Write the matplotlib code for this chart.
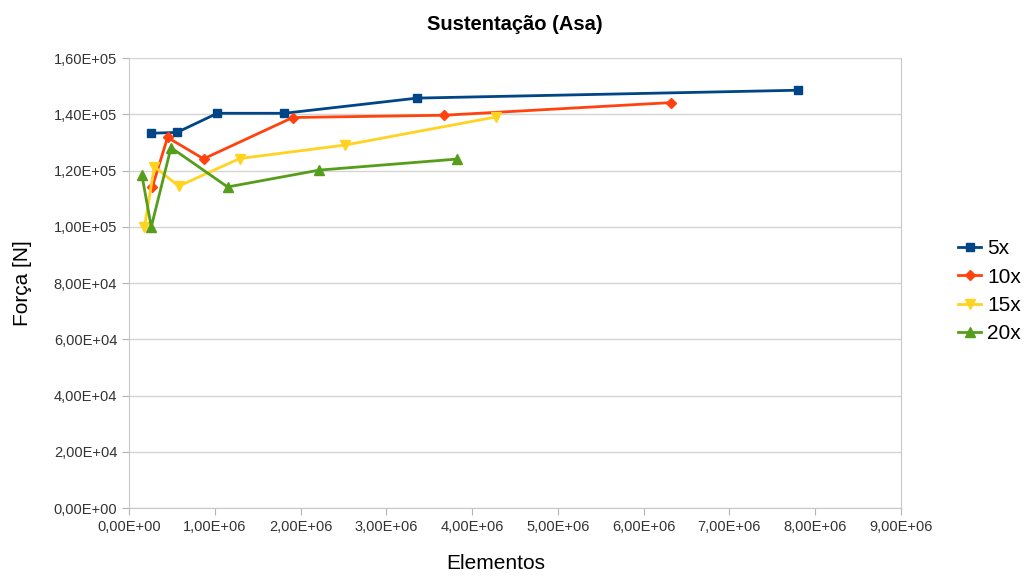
import numpy as np
import matplotlib.pyplot as plt
from matplotlib.ticker import FuncFormatter

plt.rcParams['font.family'] = ['Liberation Sans', 'DejaVu Sans']

# Dados
x_5 = [0.256e6, 0.56e6, 1.03e6, 1.81e6, 3.36e6, 7.80e6]
y_5 = [1.333e5, 1.336e5, 1.404e5, 1.404e5, 1.458e5, 1.486e5]

x_10 = [0.272e6, 0.45e6, 0.87e6, 1.91e6, 3.67e6, 6.32e6]
y_10 = [1.142e5, 1.318e5, 1.242e5, 1.389e5, 1.397e5, 1.442e5]

x_15 = [0.18e6, 0.295e6, 0.58e6, 1.29e6, 2.52e6, 4.28e6]
y_15 = [0.998e5, 1.214e5, 1.145e5, 1.243e5, 1.291e5, 1.391e5]

x_20 = [0.15e6, 0.26e6, 0.49e6, 1.15e6, 2.22e6, 3.82e6]
y_20 = [1.185e5, 1.0e5, 1.282e5, 1.142e5, 1.202e5, 1.241e5]

series = [
    ('5x', x_5, y_5, '#004586', 's', 6),
    ('10x', x_10, y_10, '#ff420e', 'D', 5),
    ('15x', x_15, y_15, '#ffd320', 'v', 7),
    ('20x', x_20, y_20, '#579d1c', '^', 7),
]


def sci_comma(v, pos):
    s = '%.2E' % v
    return s.replace('.', ',')


fig = plt.figure(figsize=(10.26, 5.76), dpi=100)
ax = fig.add_axes([0.1257, 0.118, 0.7524, 0.781])

for name, xs, ys, col, mk, ms in series:
    ax.plot(xs, ys, color=col, marker=mk, markersize=ms, linewidth=2, label=name)

ax.set_xlim(0, 9e6)
ax.set_ylim(0, 1.6e5)
ax.set_xticks(np.arange(0, 9.01e6, 1e6))
ax.set_yticks(np.arange(0, 1.601e5, 2e4))
ax.xaxis.set_major_formatter(FuncFormatter(sci_comma))
ax.yaxis.set_major_formatter(FuncFormatter(sci_comma))
ax.tick_params(labelsize=10.5, length=5, colors='#333333')
ax.tick_params(axis='both', color='#b3b3b3')

ax.grid(axis='y', color='#d4d4d4', linewidth=1)
ax.set_axisbelow(True)
for sp in ['left', 'bottom', 'right']:
    ax.spines[sp].set_color('#c8c8c8')
ax.spines['top'].set_visible(False)

ax.set_title('Sustentação (Asa)', fontsize=14.5, fontweight='bold', pad=20)
ax.set_xlabel('Elementos', fontsize=15)
ax.set_ylabel('Força [N]', fontsize=15)
ax.xaxis.set_label_coords(0.475, -0.103)
ax.yaxis.set_label_coords(-0.126, 0.5)

ax.legend(loc='center left', bbox_to_anchor=(1.05, 0.482), frameon=False,
          fontsize=15, handlelength=1.1, handletextpad=0.3, labelspacing=0.45)

fig.savefig('out.png', dpi=100)
